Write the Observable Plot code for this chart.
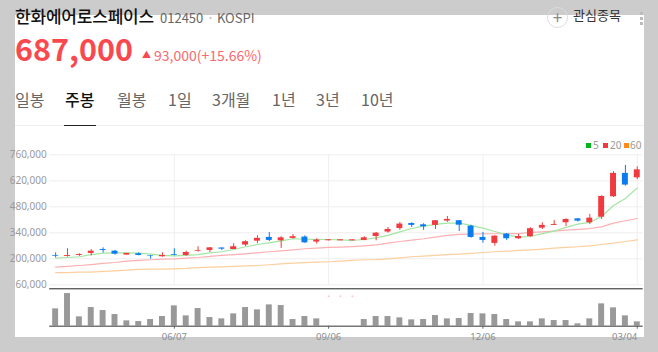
<!DOCTYPE html>
<html><head><meta charset="utf-8">
<script src="https://cdn.jsdelivr.net/npm/d3@7"></script>
<script src="https://cdn.jsdelivr.net/npm/@observablehq/plot@0.6"></script>
<style>
html,body{margin:0;padding:0;background:#ccc;}
#root{position:relative;width:658px;height:352px;overflow:hidden;background:#ccc;font-family:"Noto Sans CJK KR","Noto Sans",sans-serif;}
#panel{position:absolute;left:15px;top:15px;width:629px;height:322px;background:#fff;}
.t{position:absolute;white-space:nowrap;line-height:1;}
#root svg{position:absolute;left:0;top:0;background:transparent;}
.tab{top:91px;font-size:16px;color:#666;}
.sw{position:absolute;top:143px;width:5px;height:5px;}
.lg{top:140px;font-size:10px;color:#999;font-family:"Noto Sans",sans-serif;}
</style></head><body>
<div id="root"><div id="panel"></div>
<div class="t" style="left:15px;top:7px;font-size:17px;font-weight:500;color:#111;letter-spacing:-.2px">한화에어로스페이스</div>
<div class="t" style="left:160px;top:11px;font-size:13px;color:#666">012450</div>
<div class="t" style="left:207px;top:11px;font-size:13px;color:#aaa">·</div>
<div class="t" style="left:217px;top:11px;font-size:13px;color:#666">KOSPI</div>
<div class="t" style="left:573px;top:8px;font-size:13px;color:#333">관심종목</div>
<div class="t" style="left:547px;top:7px;width:19px;height:19px;border:1px solid #ddd;border-radius:50%;text-align:center;font-size:17px;line-height:18px;color:#888">+</div>
<div class="t" style="left:640px;top:12px;width:3px;height:3px;background:#bbb;box-shadow:0 5px 0 #bbb,0 10px 0 #bbb"></div>
<div class="t" style="left:15px;top:33px;font-size:30.5px;font-weight:700;color:#f9494f">687,000</div>
<div class="t" style="left:142px;top:50px;font-size:9px;color:#f9494f">▲</div>
<div class="t" style="left:154px;top:48px;font-size:14px;color:#f9696e">93,000(+15.66%)</div>
<div class="t tab" style="left:15px">일봉</div>
<div class="t tab" style="left:65px;color:#111;font-weight:500">주봉</div>
<div class="t tab" style="left:117px">월봉</div>
<div class="t tab" style="left:168px">1일</div>
<div class="t tab" style="left:212px">3개월</div>
<div class="t tab" style="left:272px">1년</div>
<div class="t tab" style="left:316px">3년</div>
<div class="t tab" style="left:361px">10년</div>
<div style="position:absolute;left:15px;top:125px;width:629px;height:1px;background:#eee"></div>
<div style="position:absolute;left:64px;top:125px;width:32px;height:1px;background:#222"></div>
<div class="sw" style="left:586px;background:#00b71a"></div><div class="t lg" style="left:593px">5</div>
<div class="sw" style="left:603px;background:#f03a3f"></div><div class="t lg" style="left:610px">20</div>
<div class="sw" style="left:624px;background:#ff8a1e"></div><div class="t lg" style="left:630px">60</div>
</div>
<script>
const weeks=["03/29","04/05","04/12","04/19","04/26","05/03","05/10","05/17","05/24","05/31","06/07","06/14","06/21","06/28","07/05","07/12","07/19","07/26","08/02","08/09","08/16","08/23","08/30","09/06","09/13","09/20","09/27","10/04","10/11","10/18","10/25","11/01","11/08","11/15","11/22","11/29","12/06","12/13","12/20","12/27","01/03","01/10","01/17","01/24","01/31","02/07","02/14","02/21","02/28","03/04"];
const tickWeeks=["06/07","09/06","12/06","03/04"];
const priceTicks=[60000,200000,340000,480000,620000,760000];
const up=[0,1,1,1,0,0,1,0,0,1,0,1,1,1,0,1,1,1,0,1,1,0,1,1,1,1,1,1,1,1,0,0,1,1,0,0,0,1,0,1,1,1,1,1,0,1,1,1,0,1];
const bodyTop=[218,218,223,241,250,241,229,227,216,218,222,234,245,259,258,265,292,310,315,313,319,317,301,302,302,302,313,338,358,387,390,383,405,412,405,376,315,322,333,320,362,380,385,412,415,419,536,660,660,679];
const bodyBottom=[214,213,218,229,245,225,220,218,213,211,218,218,241,245,252,250,274,295,299,297,310,286,290,297,297,297,299,320,344,363,380,372,380,403,381,315,299,283,308,308,319,365,380,394,403,394,424,534,597,636];
const high=[232,254,227,249,259,245,229,232,218,232,254,241,265,261,259,281,297,324,342,319,331,324,308,302,302,302,319,342,369,396,394,389,406,428,406,380,342,324,336,331,367,394,406,415,417,439,539,669,703,695];
const low=[205,209,213,216,231,220,220,216,198,209,216,214,236,234,245,249,266,281,293,256,306,283,279,297,297,297,297,297,338,353,369,353,358,396,347,311,284,268,299,304,317,358,380,374,398,385,412,530,591,627];
const ma5=[204,207,211,222,231,232,232,231,225,218,216,218,222,232,238,250,265,277,286,297,308,306,304,304,302,299,304,313,326,345,363,376,385,392,392,380,365,347,329,317,320,336,349,369,387,396,428,487,525,582];
const ma20=[155,159,164,169,175,180,187,191,195,198,200,204,207,213,218,223,227,232,238,243,248,254,257,261,263,266,270,275,284,293,301,308,317,326,331,333,335,335,335,336,342,345,349,354,358,363,372,392,405,417];
const ma60=[126,126,128,128,132,135,139,143,144,144,146,148,152,155,157,159,162,164,168,173,177,179,182,184,187,191,195,196,200,205,211,214,218,222,225,229,234,238,241,245,248,252,257,261,265,270,277,284,293,302];
const volume=[52,98,28,56,47,35,16,14,20,29,61,31,53,26,22,37,56,49,64,62,20,29,22,0,0,0,20,29,29,25,19,20,32,22,23,38,37,35,20,13,13,22,17,17,7,22,67,55,31,13];
const haltWeeks=["09/06","09/13","09/20"];

const RED="#f03a3f",BLUE="#0b7cf0";
const K=1000;
const candles=weeks.map((w,i)=>({w,up:up[i],hi:high[i]*K,lo:low[i]*K,top:bodyTop[i]*K,bot:bodyBottom[i]*K,vol:volume[i],m5:ma5[i]*K,m20:ma20[i]*K,m60:ma60[i]*K}));
const root=document.getElementById("root");
const xOpts={type:"band",domain:weeks,paddingInner:0.5,paddingOuter:0.25,align:0.5};
const colorOf=d=>d.up?RED:BLUE;

const price=Plot.plot({
  width:658,height:352,marginLeft:49.2,marginRight:15.3,marginTop:154.3,marginBottom:67.7,
  style:{background:"transparent",fontFamily:"'Noto Sans','Noto Sans CJK KR',sans-serif",fontSize:"10px",overflow:"visible"},
  x:{...xOpts,axis:null},
  y:{domain:[60000,760000],axis:null},
  marks:[
    Plot.gridY(priceTicks,{stroke:"#eee",strokeOpacity:1,strokeWidth:1}),
    Plot.gridX(tickWeeks,{stroke:"#eee",strokeOpacity:1,strokeWidth:1}),
    Plot.axisY(priceTicks,{anchor:"left",tickSize:0,tickPadding:3,tickFormat:d3.format(","),color:"#9a9a9e",label:null}),
    Plot.line(candles,{x:"w",y:"m60",stroke:"#fdcf9f",strokeWidth:1.2}),
    Plot.line(candles,{x:"w",y:"m20",stroke:"#fdb0b3",strokeWidth:1.2}),
    Plot.line(candles,{x:"w",y:"m5",stroke:"#a3e6a3",strokeWidth:1.2}),
    Plot.ruleX(candles,{x:"w",y1:"lo",y2:"hi",stroke:colorOf,strokeWidth:1}),
    Plot.barY(candles,{x:"w",y1:"bot",y2:"top",fill:colorOf})
  ]
});
root.appendChild(price);

const lastTick=tickWeeks[tickWeeks.length-1];
const vol=Plot.plot({
  width:658,height:352,marginLeft:49.2,marginRight:15.3,marginTop:288.3,marginBottom:26.3,
  style:{background:"transparent",fontFamily:"'Noto Sans','Noto Sans CJK KR',sans-serif",fontSize:"9.5px",overflow:"visible"},
  x:{...xOpts,axis:null},
  y:{domain:[0,112.2],axis:null},
  marks:[
    Plot.barY(candles.filter(d=>d.vol>0),{x:"w",y:"vol",fill:"#999"}),
    Plot.ruleY([112.2],{stroke:"#222",strokeWidth:1}),
    Plot.ruleY([0],{stroke:"#777",strokeWidth:1.5}),
    Plot.dot(haltWeeks,{x:d=>d,y:()=>90,r:1,fill:"#fbc4c6"}),
    Plot.axisX(tickWeeks,{anchor:"bottom",tickSize:3,tickFormat:()=>"",stroke:"#666",label:null}),
    Plot.text(tickWeeks.filter(d=>d!==lastTick),{x:d=>d,text:d=>d,frameAnchor:"bottom",dy:14,fill:"#888c94"}),
    Plot.text([lastTick],{x:d=>d,text:d=>d,frameAnchor:"bottom",dy:14,textAnchor:"end",fill:"#888c94"})
  ]
});
root.appendChild(vol);
</script></body></html>
